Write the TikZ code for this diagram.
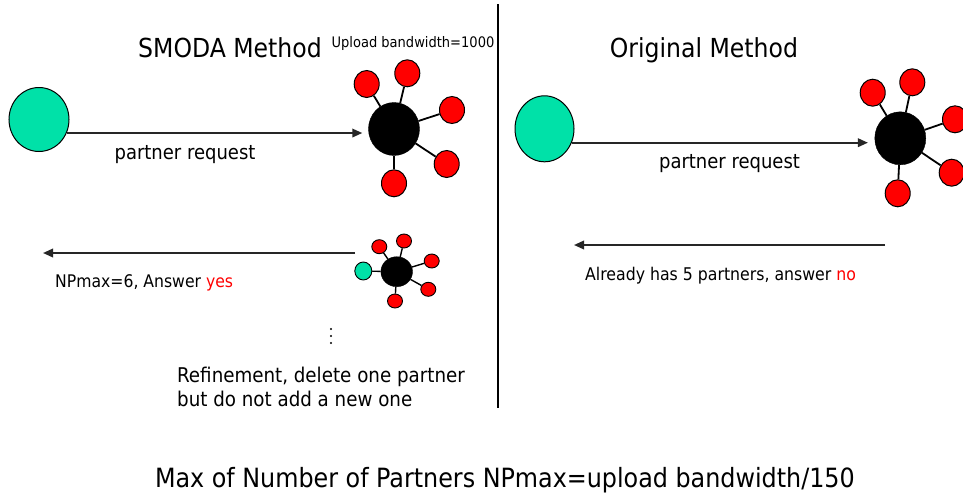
\documentclass[tikz,border=0pt]{standalone}
\usepackage{fontspec}
\setmainfont{DejaVu Sans Condensed}
\usetikzlibrary{shapes.geometric,arrows.meta}
\definecolor{peer}{RGB}{0,225,168}
\definecolor{partner}{RGB}{255,0,0}
\tikzset{
  peernode/.style={ellipse,draw=black,line width=1pt,fill=peer,inner sep=0pt},
  hub/.style={ellipse,fill=black,draw=black,inner sep=0pt},
  leaf/.style={ellipse,draw=black,line width=1pt,fill=partner,inner sep=0pt,
    minimum width=25pt,minimum height=27pt},
  smallleaf/.style={leaf,minimum width=15pt,minimum height=14pt},
  spoke/.style={line width=1.8pt},
  msg/.style={line width=1.9pt,draw=black!85,-{Triangle[length=10pt,width=8.5pt]}},
  lbl/.style={inner sep=0pt,anchor=base},
  lblw/.style={inner sep=0pt,anchor=base west},
}
\newcommand\fs[1]{\fontsize{#1}{#1}\selectfont}

\begin{document}
\begin{tikzpicture}[x=1pt,y=-1pt]
\clip (0,0) rectangle (963,498);
\fill[white] (0,0) rectangle (963,498);

% ---- SMODA side: request to a peer with upload bandwidth 1000
\node[peernode,minimum width=60pt,minimum height=64pt] (g1) at (39,119.5) {};
\node[hub,minimum width=51pt,minimum height=53pt] (b1) at (394,129) {};
\foreach \n/\x/\y in {l1/366.7/84, l2/407.3/73.3, l3/452/110, l4/446.7/164, l5/394/183.3}
  \node[leaf] (\n) at (\x,\y) {};
\foreach \n in {l1,l2,l3,l4,l5}
  \draw[spoke] (b1) -- (\n);
\draw[msg,shorten >=6pt] (g1.-26) -- (g1.-26 -| b1.west);

% ---- SMODA side: the peer accepts the new partner
\node[hub,minimum width=31.6pt,minimum height=30pt] (b2) at (396.7,271.7) {};
\node[peernode,line width=0.9pt,minimum width=17pt,minimum height=18pt] (g2) at (363.3,271) {};
\foreach \n/\x/\y in {s1/379.3/246.7, s2/404/241, s3/431.7/261, s4/428.3/289.3, s5/395/301}
  \node[smallleaf,line width=0.9pt] (\n) at (\x,\y) {};
\foreach \n in {g2,s1,s2,s3,s4,s5}
  \draw[line width=1.4pt] (b2) -- (\n);
\coordinate (a1s) at (355,253);
\coordinate (a1e) at (43,253);
\draw[msg] (a1s) -- (a1e);

% ---- divider
\coordinate (d1) at (498,4);
\coordinate (d2) at (498,408);
\draw[line width=1.5pt] (d1) -- (d2);

% ---- Original side
\node[peernode,minimum width=59pt,minimum height=66pt] (g3) at (544.5,128.8) {};
\node[hub,minimum width=51pt,minimum height=53pt] (b3) at (900.3,138.3) {};
\foreach \n/\x/\y in {r1/872.7/92.7, r2/912.3/82.3, r3/955/119.3, r4/951.7/172.7, r5/897.7/193.3}
  \node[leaf] (\n) at (\x,\y) {};
\foreach \n in {r1,r2,r3,r4,r5}
  \draw[spoke] (b3) -- (\n);
\draw[msg,shorten >=6.7pt] (g3.-27) -- (g3.-27 -| b3.west);
\coordinate (a2s) at (885,245);
\coordinate (a2e) at (574,245);
\draw[msg] (a2s) -- (a2e);

% ---- labels
\node[lbl] (t1) at (230,57.3) {\fs{26.2}SMODA Method};
\node[lbl] (t2) at (413,47.3) {\fs{14.5}Upload bandwidth=1000};
\node[lbl] (t3) at (704,57) {\fs{26.2}Original Method};
\node[lbl] (t4) at (185,159.3) {\fs{20}partner request};
\node[lbl] (t5) at (729.5,168.3) {\fs{20}partner request};
\node[lblw] (t6) at (55,287.3) {\fs{17.4}NPmax=6, Answer \textcolor{partner}{yes}};
\node[lblw] (t7) at (585,280) {\fs{17.5}Already has 5 partners, answer \textcolor{partner}{no}};
\foreach \y in {329,336,343}
  \fill (331,\y) circle (1.2pt);
\node[lblw] (t8) at (177,382.7) {\fs{20.3}Refinement, delete one partner};
\node[lblw] (t9) at (177,406.7) {\fs{20.3}but do not add a new one};
\node[lbl] (t10) at (505,487.3) {\fs{26.5}Max of Number of Partners NPmax=upload bandwidth/150};
\end{tikzpicture}
\end{document}
